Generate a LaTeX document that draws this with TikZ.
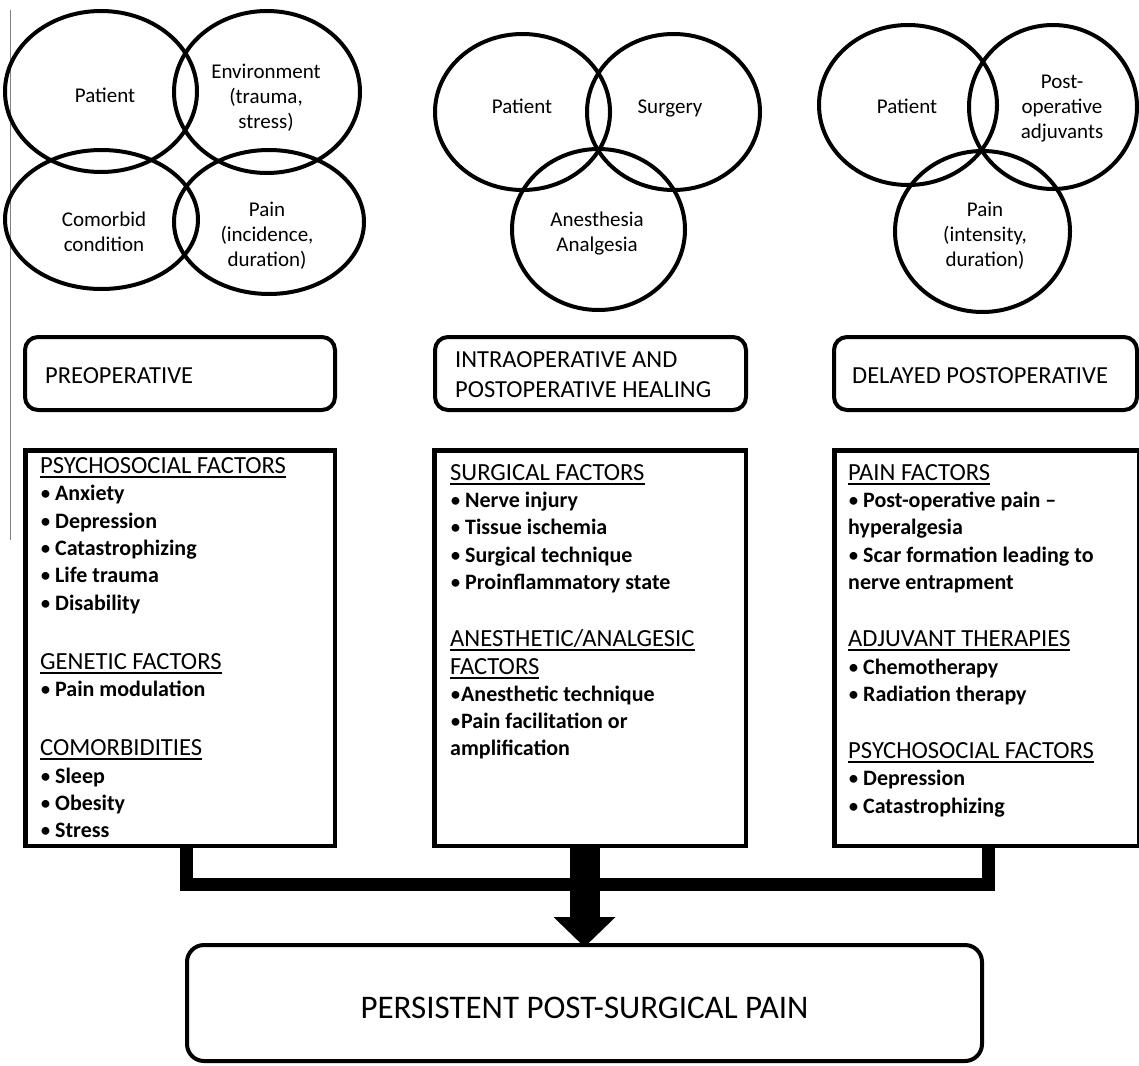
\documentclass[tikz,border=0pt]{standalone}
\usepackage{fontspec}
\setmainfont{Carlito}
\usetikzlibrary{arrows.meta}
\newsavebox\hdrbox
\newcommand{\hdr}[1]{\sbox\hdrbox{\fontsize{24.6}{27.3}\selectfont\mdseries #1}\rlap{\rule[-4.5pt]{\wd\hdrbox}{2pt}}\usebox\hdrbox}
\newcommand{\bul}{{\mdseries •}\hspace{4pt}}
\newcommand{\bultight}{{\mdseries •}}
\begin{document}
\begin{tikzpicture}[x=1pt,y=-1pt,
  venn/.style={line width=4pt},
  vtext/.style={font=\fontsize{21}{25}\selectfont, align=center, inner sep=0pt},
  headbox/.style={draw, line width=4pt, rounded corners=13pt, anchor=north west},
  contbox/.style={draw, line width=4.5pt, anchor=north west},
  htext/.style={font=\fontsize{24.5}{30}\selectfont, align=left, inner sep=0pt},
  ltext/.style={font=\fontsize{22}{27.3}\selectfont\bfseries, align=left, inner sep=0pt, anchor=north west},
  bar/.style={line width=13pt},
  bigarrow/.style={line width=30pt, -{Triangle[length=30pt,width=62pt,line width=0pt]}},
]
\useasboundingbox (0,0) rectangle (1139,1065);
\draw[black!50, line width=1.5pt] (10.5,10) -- (10.5,540);

% Venn diagrams
\draw[venn] (101,91.5) ellipse [x radius=96pt, y radius=80.5pt];
\draw[venn] (267,92) ellipse [x radius=93pt, y radius=81pt];
\draw[venn] (101.5,219.5) ellipse [x radius=96.5pt, y radius=69.5pt];
\draw[venn] (269,222) ellipse [x radius=95pt, y radius=72pt];

\draw[venn] (522.5,112) ellipse [x radius=87.5pt, y radius=78pt];
\draw[venn] (673.5,112) ellipse [x radius=86.5pt, y radius=78pt];
\draw[venn] (598.5,229.5) ellipse [x radius=86.5pt, y radius=80.5pt];

\draw[venn] (908,105) ellipse [x radius=89pt, y radius=80pt];
\draw[venn] (1053,107) ellipse [x radius=84pt, y radius=82pt];
\draw[venn] (982.5,231.5) ellipse [x radius=87.5pt, y radius=80.5pt];

\node[vtext, anchor=base] (v1a) at (105,102) {Patient};
\node[vtext] (v1b) at (266,97.5) {Environment\\(trauma,\\stress)};
\node[vtext] (v1c) at (104,232) {Comorbid\\condition};
\node[vtext] (v1d) at (267,235.5) {Pain\\(incidence,\\duration)};
\node[vtext, anchor=base] (v2a) at (522,113) {Patient};
\node[vtext, anchor=base] (v2b) at (670,113) {Surgery};
\node[vtext] (v2c) at (597,233.5) {Anesthesia\\Analgesia};
\node[vtext, anchor=base] (v3a) at (907,113) {Patient};
\node[vtext] (v3b) at (1062,109) {Post-\\operative\\adjuvants};
\node[vtext] (v3c) at (985,235.5) {Pain\\(intensity,\\duration)};

% header boxes
\node[headbox, minimum width=310pt, minimum height=73pt] (h1) at (23,335) {};
\node[headbox, minimum width=311pt, minimum height=73pt] (h2) at (433,335) {};
\node[headbox, minimum width=303pt, minimum height=73pt] (h3) at (832,335) {};
\node[htext, anchor=base west] (h1t) at (45,383) {PREOPERATIVE};
\node[htext, anchor=north west] (h2t) at (455,346) {\strut INTRAOPERATIVE AND\\POSTOPERATIVE HEALING};
\node[htext, anchor=base west] (h3t) at (852,383) {DELAYED POSTOPERATIVE};

% content boxes
\node[contbox, minimum width=309.5pt, minimum height=395.5pt] (lbox) at (23,448) {};
\node[contbox, minimum width=311.5pt, minimum height=395.5pt] (mbox) at (432,448) {};
\node[contbox, minimum width=305pt, minimum height=395.5pt] (rbox) at (832,448) {};

\node[ltext] (lt) at (40,454.2) {\strut\hdr{PSYCHOSOCIAL FACTORS}\\
\bul Anxiety\\
\bul Depression\\
\bul Catastrophizing\\
\bul Life trauma\\
\bul Disability\\[32pt]
\hdr{GENETIC FACTORS}\\
\bul Pain modulation\\[32pt]
\hdr{COMORBIDITIES}\\
\bul Sleep\\
\bul Obesity\\
\bul Stress};

\node[ltext] (mt) at (450,460.9) {\strut\hdr{SURGICAL FACTORS}\\
\bul Nerve injury\\
\bul Tissue ischemia\\
\bul Surgical technique\\
\bul Proinflammatory state\\[30pt]
\hdr{ANESTHETIC/ANALGESIC}\\
\hdr{FACTORS}\\
\bultight Anesthetic technique\\
\bultight Pain facilitation or\\
amplification};

\node[ltext] (rt) at (848,460.9) {\strut\hdr{PAIN FACTORS}\\
\bul Post-operative pain –\\
hyperalgesia\\
\bul Scar formation leading to\\
nerve entrapment\\[30pt]
\hdr{ADJUVANT THERAPIES}\\
\bul Chemotherapy\\
\bul Radiation therapy\\[30pt]
\hdr{PSYCHOSOCIAL FACTORS}\\
\bul Depression\\
\bul Catastrophizing};

% result box
\node[draw, line width=4pt, rounded corners=17pt, anchor=north west,
      minimum width=795pt, minimum height=116pt,
      font=\fontsize{33}{38}\selectfont, text height=30pt, text depth=0pt]
      (bot) at (185,943) {PERSISTENT POST-SURGICAL PAIN};

% connectors
\coordinate (barL) at (186.5,884);
\coordinate (barR) at (988,884);
\draw[bar] (lbox.south -| barL) -- (barL) -- (barR) -- (rbox.south -| barR);
\draw[bigarrow] (mbox.south -| bot.north) -- ([yshift=-4pt]bot.north);
\end{tikzpicture}
\end{document}
